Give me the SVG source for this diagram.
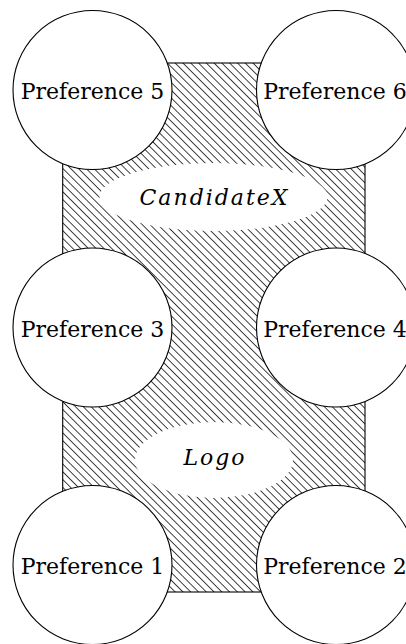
<svg xmlns="http://www.w3.org/2000/svg" width="406" height="644" viewBox="0 0 406 644">
<style>
.pref{fill:#fff;stroke:#000;stroke-width:1.1}
.lbl{font-family:"DejaVu Serif",serif;font-size:22px;fill:#000;text-anchor:middle}
.oval{fill:#fff;stroke:none}
.olbl{font-family:"DejaVu Serif",serif;font-style:italic;font-size:22px;letter-spacing:2px;fill:#000;text-anchor:middle}
</style>
<defs>
<pattern id="hatch" patternUnits="userSpaceOnUse" width="10" height="5.5" patternTransform="rotate(45)">
<line x1="-1" y1="2.75" x2="11" y2="2.75" stroke="#000" stroke-width="0.8" shape-rendering="crispEdges"/>
</pattern>
</defs>
<rect id="background" x="62.7" y="63" width="302.3" height="529" fill="url(#hatch)" stroke="#000" stroke-width="1.1"/>
<g id="connectors"/>
<g id="candidatex">
<ellipse class="oval" cx="213.5" cy="197" rx="114" ry="34"/>
<text class="olbl" x="214.5" y="205">CandidateX</text>
</g>
<g id="logo">
<ellipse class="oval" cx="214" cy="460" rx="79" ry="38"/>
<text class="olbl" x="215" y="465">Logo</text>
</g>
<g id="pref5">
<circle class="pref" cx="92.5" cy="90" r="79.5"/>
<text class="lbl" x="92.5" y="99">Preference 5</text>
</g>
<g id="pref6">
<circle class="pref" cx="336" cy="90" r="79.5"/>
<text class="lbl" x="335" y="99">Preference 6</text>
</g>
<g id="pref3">
<circle class="pref" cx="92.5" cy="327.5" r="79.5"/>
<text class="lbl" x="92.5" y="336.5">Preference 3</text>
</g>
<g id="pref4">
<circle class="pref" cx="336" cy="327.5" r="79.5"/>
<text class="lbl" x="335" y="336.5">Preference 4</text>
</g>
<g id="pref1">
<circle class="pref" cx="92.5" cy="565" r="79.5"/>
<text class="lbl" x="92.5" y="574">Preference 1</text>
</g>
<g id="pref2">
<circle class="pref" cx="336" cy="565" r="79.5"/>
<text class="lbl" x="335" y="574">Preference 2</text>
</g>
</svg>
